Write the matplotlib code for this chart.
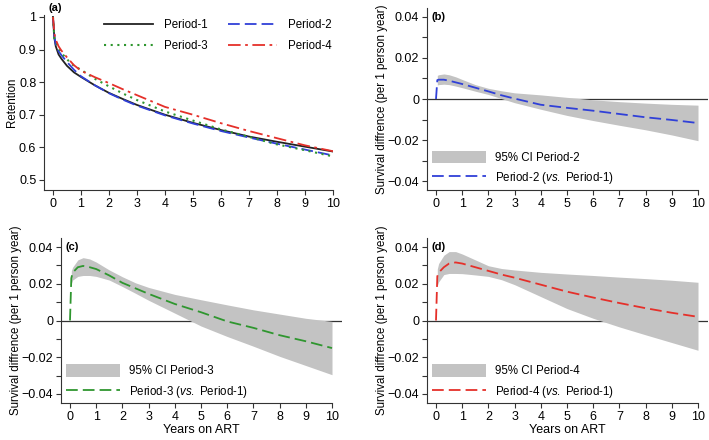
import numpy as np
import matplotlib
matplotlib.use('Agg')
import matplotlib.pyplot as plt
from matplotlib.patches import Patch
from matplotlib.lines import Line2D
from matplotlib.ticker import MultipleLocator, FuncFormatter

plt.rcParams['font.family'] = ['Liberation Sans', 'DejaVu Sans']
plt.rcParams['mathtext.fontset'] = 'custom'
plt.rcParams['mathtext.it'] = 'Liberation Sans:italic'
plt.rcParams['mathtext.rm'] = 'Liberation Sans'
plt.rcParams['font.size'] = 8.3

# (a) retention curves
t_ret = [0, 0.05, 0.1, 0.2, 0.3, 0.5, 0.75, 1, 1.5, 2, 2.5, 3, 4, 5, 6, 7, 8, 9, 10]
ret_p1 = [1.0, 0.935, 0.91, 0.885, 0.872, 0.85, 0.83, 0.816, 0.79, 0.767, 0.748, 0.73, 0.70, 0.675, 0.653, 0.633, 0.617, 0.602, 0.587]
ret_p2 = [1.0, 0.94, 0.915, 0.895, 0.883, 0.862, 0.838, 0.818, 0.79, 0.766, 0.746, 0.728, 0.698, 0.673, 0.65, 0.63, 0.611, 0.593, 0.575]
ret_p3 = [1.0, 0.935, 0.925, 0.905, 0.89, 0.87, 0.85, 0.838, 0.81, 0.787, 0.765, 0.745, 0.71, 0.682, 0.655, 0.632, 0.609, 0.591, 0.572]
ret_p4 = [1.0, 0.95, 0.93, 0.91, 0.897, 0.876, 0.852, 0.835, 0.815, 0.797, 0.778, 0.76, 0.724, 0.70, 0.674, 0.65, 0.628, 0.606, 0.588]

# (b)-(d) survival differences vs Period-1
t_diff = [0, 0.05, 0.1, 0.3, 0.5, 0.75, 1, 1.5, 2, 2.5, 3, 4, 5, 6, 7, 8, 9, 10]
t_ci = t_diff[1:]

p2_est = [0, 0.0092, 0.0094, 0.0094, 0.0089, 0.0081, 0.0073, 0.0055, 0.0037, 0.0018, 0.0002, -0.0028, -0.0043, -0.0057, -0.0073, -0.0089, -0.0102, -0.0117]
p2_hi = [0.0115, 0.0118, 0.0122, 0.0118, 0.0108, 0.0095, 0.007, 0.0052, 0.004, 0.003, 0.002, 0.0008, -0.0004, -0.0013, -0.002, -0.0026, -0.003]
p2_lo = [0.0068, 0.007, 0.0072, 0.007, 0.0063, 0.0055, 0.0038, 0.0022, 0.0002, -0.0018, -0.005, -0.008, -0.0105, -0.0128, -0.015, -0.0175, -0.0203]

p3_est = [0, 0.023, 0.026, 0.029, 0.0297, 0.029, 0.028, 0.0245, 0.0205, 0.0175, 0.0145, 0.009, 0.0045, -0.0005, -0.004, -0.008, -0.0113, -0.015]
p3_hi = [0.027, 0.029, 0.033, 0.0342, 0.0335, 0.0318, 0.0275, 0.0238, 0.0205, 0.018, 0.0142, 0.0113, 0.0085, 0.0058, 0.0035, 0.0012, -0.0005]
p3_lo = [0.02, 0.022, 0.024, 0.0245, 0.0245, 0.024, 0.022, 0.0185, 0.0148, 0.011, 0.004, -0.003, -0.0087, -0.014, -0.0195, -0.0245, -0.0295]

p4_est = [0, 0.024, 0.026, 0.029, 0.031, 0.0316, 0.031, 0.029, 0.027, 0.025, 0.0233, 0.0195, 0.0157, 0.0125, 0.0095, 0.0067, 0.0042, 0.002]
p4_hi = [0.028, 0.031, 0.0355, 0.0375, 0.0375, 0.0362, 0.033, 0.0298, 0.0283, 0.0275, 0.0262, 0.0253, 0.0245, 0.0236, 0.0228, 0.0219, 0.0208]
p4_lo = [0.019, 0.021, 0.025, 0.0256, 0.0256, 0.0255, 0.0248, 0.024, 0.0222, 0.0195, 0.013, 0.0065, 0.0012, -0.0035, -0.0078, -0.012, -0.0162]

BLACK = '#222222'
BLUE = '#3040d8'
GREEN = '#2f962f'
RED = '#e5302a'
GRAY = '#c3c3c3'
DASH = (0, (6.5, 2.8))

W, H = 709, 440
fig = plt.figure(figsize=(W / 100, H / 100), dpi=100)


def place(left, right, top, bottom):
    return fig.add_axes([left / W, 1 - bottom / H, (right - left) / W, (bottom - top) / H])


def style(ax):
    for s in ['top', 'right']:
        ax.spines[s].set_visible(False)
    for s in ['left', 'bottom']:
        ax.spines[s].set_linewidth(0.8)
        ax.spines[s].set_color('#333333')
    ax.tick_params(direction='out', length=3.5, width=0.8, color='#333333', labelsize=9, pad=2)
    ax.tick_params(which='minor', direction='out', length=3.5, width=0.8, color='#333333')
    ax.set_xticks(range(0, 11))


def diff_fmt(v, pos):
    if abs(v) < 1e-9:
        return '0'
    return f'{v:.2f}'.replace('-', '\u2212')


# ---- panel (a)
ax = place(44, 333, 15, 190)
style(ax)
l1, = ax.plot(t_ret, ret_p1, color=BLACK, lw=1.3)
l2, = ax.plot(t_ret, ret_p2, color=BLUE, lw=1.3, ls=DASH)
l3, = ax.plot(t_ret, ret_p3, color=GREEN, lw=1.5, ls=(0, (1, 2.2)))
l4, = ax.plot(t_ret, ret_p4, color=RED, lw=1.3, ls=(0, (7, 2.5, 1.5, 2.5)))
ax.set_xlim(-0.32, 10)
ax.set_ylim(0.469, 1.006)
ax.set_yticks([0.5, 0.6, 0.7, 0.8, 0.9, 1.0])
ax.yaxis.set_major_formatter(FuncFormatter(lambda v, p: '1' if abs(v - 1) < 1e-9 else f'{v:.1f}'))
ax.set_ylabel('Retention', labelpad=1)
# legend filled column-wise, so order gives rows P1|P2 and P3|P4
ax.legend([l1, l3, l2, l4], ['Period-1', 'Period-3', 'Period-2', 'Period-4'], ncol=2, loc='upper right',
          bbox_to_anchor=(0.997, 0.975), frameon=False, handlelength=4.2, handletextpad=1.0,
          columnspacing=1.8, labelspacing=0.75, borderaxespad=0, borderpad=0)

# ---- panels (b)-(d)
panels = [
    ('(b)', (427, 708, 8, 190), (-0.0443, 0.0443), p2_est, p2_hi, p2_lo, BLUE, 'Period-2', False),
    ('(c)', (61, 342, 238, 403), (-0.0449, 0.0449), p3_est, p3_hi, p3_lo, GREEN, 'Period-3', True),
    ('(d)', (427, 708, 238, 403), (-0.0449, 0.0449), p4_est, p4_hi, p4_lo, RED, 'Period-4', True),
]
for tag, box, ylim, est, hi, lo, col, name, xlab in panels:
    left, right, top, bottom = box
    ax = place(left, right, top, bottom)
    style(ax)
    x0 = -9 / 26.2
    ax.set_xlim(x0, x0 + (right - left) / 26.2)
    ax.set_ylim(*ylim)
    ax.spines['bottom'].set_bounds(x0, 10)
    ax.axhline(0, color='#333333', lw=0.9, zorder=1)
    ax.fill_between(t_ci, lo, hi, color=GRAY, lw=0, zorder=2)
    ax.plot(t_diff, est, color=col, lw=1.3, ls=DASH, zorder=3)
    ax.yaxis.set_major_locator(MultipleLocator(0.02))
    ax.yaxis.set_minor_locator(MultipleLocator(0.01))
    ax.yaxis.set_major_formatter(FuncFormatter(diff_fmt))
    ax.set_ylabel('Survival diffrence (per 1 person year)', labelpad=-0.5)
    if xlab:
        ax.set_xlabel('Years on ART', labelpad=1, fontsize=9)
    handles = [Patch(facecolor=GRAY, edgecolor='none'),
               Line2D([], [], color=col, lw=1.3, ls=DASH)]
    labels = [f'95% CI {name}', name + r' ($\mathit{vs.}$ Period-1)']
    ax.legend(handles, labels, loc='lower left', bbox_to_anchor=(0.018, 0.02), frameon=False,
              handlelength=4.7, handleheight=1.3, handletextpad=0.8, labelspacing=0.55,
              borderaxespad=0, borderpad=0)
    fig.text((left + 4) / W, 1 - (top + 9) / H, tag, fontweight='bold', fontsize=8, va='center', ha='left')

fig.text(48 / W, 1 - 8 / H, '(a)', fontweight='bold', fontsize=8, va='center', ha='left')

fig.savefig('out.png', dpi=100)
